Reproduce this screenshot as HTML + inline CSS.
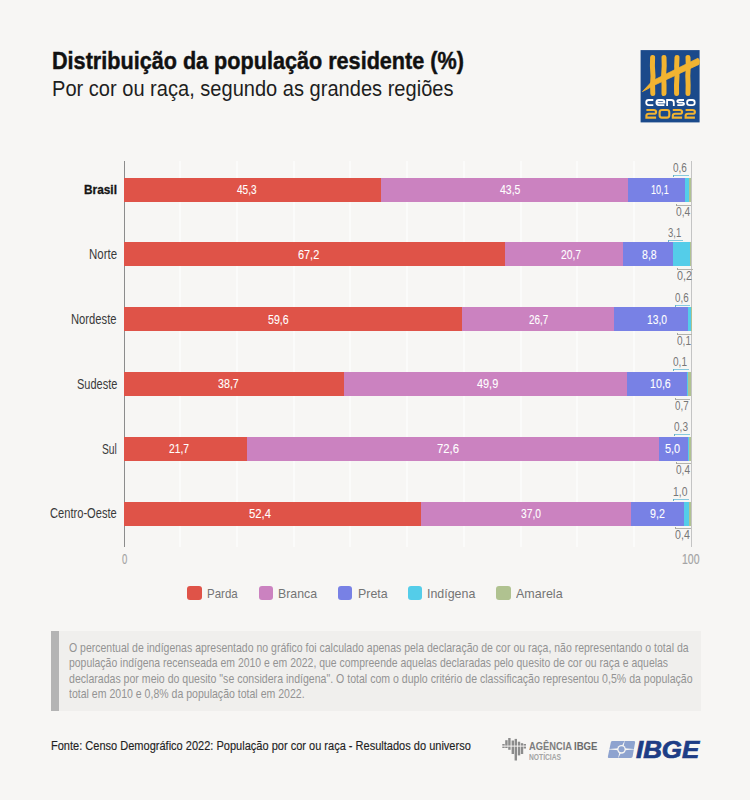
<!DOCTYPE html><html><head><meta charset="utf-8"><style>
html,body{margin:0;padding:0}
body{width:750px;height:800px;overflow:hidden;background:#f7f6f4;position:relative;font-family:"Liberation Sans",sans-serif}
.a{position:absolute}
.t{position:absolute;white-space:pre;line-height:normal;transform-origin:0 0}
</style></head><body>
<div class="a" style="left:179.22px;top:161px;width:2px;height:386px;background:#fbfbfa"></div>
<div class="a" style="left:235.94px;top:161px;width:2px;height:386px;background:#fbfbfa"></div>
<div class="a" style="left:292.66px;top:161px;width:2px;height:386px;background:#fbfbfa"></div>
<div class="a" style="left:349.38px;top:161px;width:2px;height:386px;background:#fbfbfa"></div>
<div class="a" style="left:406.10px;top:161px;width:2px;height:386px;background:#fbfbfa"></div>
<div class="a" style="left:462.82px;top:161px;width:2px;height:386px;background:#fbfbfa"></div>
<div class="a" style="left:519.54px;top:161px;width:2px;height:386px;background:#fbfbfa"></div>
<div class="a" style="left:576.26px;top:161px;width:2px;height:386px;background:#fbfbfa"></div>
<div class="a" style="left:632.98px;top:161px;width:2px;height:386px;background:#fbfbfa"></div>
<div class="a" style="left:124px;top:161px;width:1px;height:386px;background:#8c8c8c"></div>
<div class="a" style="left:690.5px;top:161px;width:1.2px;height:386px;background:#c4c4c4"></div>
<div class="a" style="left:124.00px;top:178.00px;width:257.08px;height:24.2px;background:#df5348"></div>
<div class="a" style="left:381.08px;top:178.00px;width:246.86px;height:24.2px;background:#cb82c0"></div>
<div class="a" style="left:627.94px;top:178.00px;width:57.32px;height:24.2px;background:#7881e5"></div>
<div class="a" style="left:685.26px;top:178.00px;width:3.40px;height:24.2px;background:#54cde9"></div>
<div class="a" style="left:688.66px;top:178.00px;width:2.84px;height:24.2px;background:#b0c290"></div>
<div class="a" style="left:673.3px;top:175.4px;width:15.4px;height:1px;background:#86c9de"></div>
<div class="a" style="left:673.3px;top:175.4px;width:1px;height:2px;background:#6aaec4"></div>
<div class="a" style="left:676.1px;top:204.8px;width:15.3px;height:1px;background:#b3b3ad"></div>
<div class="a" style="left:676.1px;top:203.8px;width:1px;height:2px;background:#a5a59f"></div>
<div class="a" style="left:124.00px;top:242.25px;width:381.36px;height:24.2px;background:#df5348"></div>
<div class="a" style="left:505.36px;top:242.25px;width:117.47px;height:24.2px;background:#cb82c0"></div>
<div class="a" style="left:622.83px;top:242.25px;width:49.94px;height:24.2px;background:#7881e5"></div>
<div class="a" style="left:672.77px;top:242.25px;width:17.59px;height:24.2px;background:#54cde9"></div>
<div class="a" style="left:690.37px;top:242.25px;width:1.13px;height:24.2px;background:#b0c290"></div>
<div class="a" style="left:668.0px;top:239.7px;width:14.7px;height:1px;background:#86c9de"></div>
<div class="a" style="left:668.0px;top:239.7px;width:1px;height:2px;background:#6aaec4"></div>
<div class="a" style="left:676.5px;top:269.1px;width:16.0px;height:1px;background:#b3b3ad"></div>
<div class="a" style="left:676.5px;top:268.1px;width:1px;height:2px;background:#a5a59f"></div>
<div class="a" style="left:124.00px;top:307.25px;width:338.23px;height:24.2px;background:#df5348"></div>
<div class="a" style="left:462.23px;top:307.25px;width:151.52px;height:24.2px;background:#cb82c0"></div>
<div class="a" style="left:613.75px;top:307.25px;width:73.77px;height:24.2px;background:#7881e5"></div>
<div class="a" style="left:687.53px;top:307.25px;width:3.40px;height:24.2px;background:#54cde9"></div>
<div class="a" style="left:690.93px;top:307.25px;width:0.57px;height:24.2px;background:#b0c290"></div>
<div class="a" style="left:675.2px;top:304.6px;width:15.1px;height:1px;background:#86c9de"></div>
<div class="a" style="left:675.2px;top:304.6px;width:1px;height:2px;background:#6aaec4"></div>
<div class="a" style="left:677.2px;top:334.1px;width:15.0px;height:1px;background:#b3b3ad"></div>
<div class="a" style="left:677.2px;top:333.1px;width:1px;height:2px;background:#a5a59f"></div>
<div class="a" style="left:124.00px;top:372.00px;width:219.62px;height:24.2px;background:#df5348"></div>
<div class="a" style="left:343.62px;top:372.00px;width:283.18px;height:24.2px;background:#cb82c0"></div>
<div class="a" style="left:626.80px;top:372.00px;width:60.15px;height:24.2px;background:#7881e5"></div>
<div class="a" style="left:686.96px;top:372.00px;width:0.57px;height:24.2px;background:#54cde9"></div>
<div class="a" style="left:687.53px;top:372.00px;width:3.97px;height:24.2px;background:#b0c290"></div>
<div class="a" style="left:673.2px;top:369.4px;width:15.5px;height:1px;background:#86c9de"></div>
<div class="a" style="left:673.2px;top:369.4px;width:1px;height:2px;background:#6aaec4"></div>
<div class="a" style="left:675.2px;top:398.8px;width:14.6px;height:1px;background:#b3b3ad"></div>
<div class="a" style="left:675.2px;top:397.8px;width:1px;height:2px;background:#a5a59f"></div>
<div class="a" style="left:124.00px;top:436.50px;width:123.15px;height:24.2px;background:#df5348"></div>
<div class="a" style="left:247.15px;top:436.50px;width:412.00px;height:24.2px;background:#cb82c0"></div>
<div class="a" style="left:659.15px;top:436.50px;width:28.38px;height:24.2px;background:#7881e5"></div>
<div class="a" style="left:687.53px;top:436.50px;width:1.70px;height:24.2px;background:#54cde9"></div>
<div class="a" style="left:689.23px;top:436.50px;width:2.27px;height:24.2px;background:#b0c290"></div>
<div class="a" style="left:674.0px;top:433.9px;width:15.5px;height:1px;background:#86c9de"></div>
<div class="a" style="left:674.0px;top:433.9px;width:1px;height:2px;background:#6aaec4"></div>
<div class="a" style="left:676.0px;top:463.3px;width:15.0px;height:1px;background:#b3b3ad"></div>
<div class="a" style="left:676.0px;top:462.3px;width:1px;height:2px;background:#a5a59f"></div>
<div class="a" style="left:124.00px;top:501.50px;width:297.37px;height:24.2px;background:#df5348"></div>
<div class="a" style="left:421.37px;top:501.50px;width:209.98px;height:24.2px;background:#cb82c0"></div>
<div class="a" style="left:631.35px;top:501.50px;width:52.21px;height:24.2px;background:#7881e5"></div>
<div class="a" style="left:683.56px;top:501.50px;width:5.67px;height:24.2px;background:#54cde9"></div>
<div class="a" style="left:689.23px;top:501.50px;width:2.27px;height:24.2px;background:#b0c290"></div>
<div class="a" style="left:672.8px;top:498.9px;width:15.9px;height:1px;background:#86c9de"></div>
<div class="a" style="left:672.8px;top:498.9px;width:1px;height:2px;background:#6aaec4"></div>
<div class="a" style="left:675.2px;top:528.3px;width:15.8px;height:1px;background:#b3b3ad"></div>
<div class="a" style="left:675.2px;top:527.3px;width:1px;height:2px;background:#a5a59f"></div>
<div class="a" style="left:187.3px;top:585.5px;width:14.5px;height:14.5px;border-radius:3px;background:#df5348"></div>
<div class="a" style="left:258.6px;top:585.5px;width:14.5px;height:14.5px;border-radius:3px;background:#cb82c0"></div>
<div class="a" style="left:337.8px;top:585.5px;width:14.5px;height:14.5px;border-radius:3px;background:#7881e5"></div>
<div class="a" style="left:407.5px;top:585.5px;width:14.5px;height:14.5px;border-radius:3px;background:#54cde9"></div>
<div class="a" style="left:496px;top:585.5px;width:14.5px;height:14.5px;border-radius:3px;background:#b0c290"></div>
<div class="a" style="left:51px;top:631px;width:650px;height:80px;background:#f0efed"></div>
<div class="a" style="left:51px;top:631px;width:8px;height:80px;background:#b4b4b4"></div>
<span class="t" id="t0" style="left:52.30px;top:46.74px;font-size:24.6px;font-weight:700;font-style:normal;color:#111;transform-origin:0 22.26px;transform:scale(0.8787,1.000);-webkit-text-stroke:0.45px #111">Distribuição da população residente (%)</span>
<span class="t" id="t1" style="left:51.50px;top:77.00px;font-size:21px;font-weight:400;font-style:normal;color:#1e1e1e;transform-origin:0 19.00px;transform:scale(0.9553,1.050);">Por cor ou raça, segundo as grandes regiões</span>
<span class="t" id="t2" style="left:83.75px;top:181.83px;font-size:13.0px;font-weight:700;font-style:normal;color:#151515;transform-origin:0 11.77px;transform:scale(0.9117,1.000);-webkit-text-stroke:0.3px #151515">Brasil</span>
<span class="t" id="t3" style="left:88.75px;top:246.51px;font-size:13.8px;font-weight:400;font-style:normal;color:#3a3a3a;transform-origin:0 12.49px;transform:scale(0.8311,1.030);">Norte</span>
<span class="t" id="t4" style="left:71.25px;top:311.81px;font-size:13.8px;font-weight:400;font-style:normal;color:#3a3a3a;transform-origin:0 12.49px;transform:scale(0.8136,1.030);">Nordeste</span>
<span class="t" id="t5" style="left:76.50px;top:376.51px;font-size:13.8px;font-weight:400;font-style:normal;color:#3a3a3a;transform-origin:0 12.49px;transform:scale(0.7958,1.030);">Sudeste</span>
<span class="t" id="t6" style="left:101.90px;top:441.51px;font-size:13.8px;font-weight:400;font-style:normal;color:#3a3a3a;transform-origin:0 12.49px;transform:scale(0.7468,1.030);">Sul</span>
<span class="t" id="t7" style="left:50.00px;top:505.81px;font-size:13.8px;font-weight:400;font-style:normal;color:#3a3a3a;transform-origin:0 12.49px;transform:scale(0.8065,1.030);">Centro-Oeste</span>
<span class="t" id="t8" style="left:237.20px;top:182.32px;font-size:12.8px;font-weight:400;font-style:normal;color:#ffffff;transform-origin:0 11.58px;transform:scale(0.7865,1.000);-webkit-text-stroke:0.1px #fff">45,3</span>
<span class="t" id="t9" style="left:499.60px;top:182.32px;font-size:12.8px;font-weight:400;font-style:normal;color:#ffffff;transform-origin:0 11.58px;transform:scale(0.8186,1.000);-webkit-text-stroke:0.1px #fff">43,5</span>
<span class="t" id="t10" style="left:650.90px;top:182.32px;font-size:12.8px;font-weight:400;font-style:normal;color:#ffffff;transform-origin:0 11.58px;transform:scale(0.7102,1.000);-webkit-text-stroke:0.1px #fff">10,1</span>
<span class="t" id="t11" style="left:673.30px;top:160.42px;font-size:12.8px;font-weight:400;font-style:normal;color:#777;transform-origin:0 11.58px;transform:scale(0.7810,1.000);">0,6</span>
<span class="t" id="t12" style="left:676.10px;top:203.62px;font-size:12.8px;font-weight:400;font-style:normal;color:#777;transform-origin:0 11.58px;transform:scale(0.8035,1.000);">0,4</span>
<span class="t" id="t13" style="left:298.00px;top:246.57px;font-size:12.8px;font-weight:400;font-style:normal;color:#ffffff;transform-origin:0 11.58px;transform:scale(0.8507,1.000);-webkit-text-stroke:0.1px #fff">67,2</span>
<span class="t" id="t14" style="left:560.90px;top:246.57px;font-size:12.8px;font-weight:400;font-style:normal;color:#ffffff;transform-origin:0 11.58px;transform:scale(0.8065,1.000);-webkit-text-stroke:0.1px #fff">20,7</span>
<span class="t" id="t15" style="left:642.00px;top:246.57px;font-size:12.8px;font-weight:400;font-style:normal;color:#ffffff;transform-origin:0 11.58px;transform:scale(0.8260,1.000);-webkit-text-stroke:0.1px #fff">8,8</span>
<span class="t" id="t16" style="left:668.00px;top:224.67px;font-size:12.8px;font-weight:400;font-style:normal;color:#777;transform-origin:0 11.58px;transform:scale(0.7417,1.000);">3,1</span>
<span class="t" id="t17" style="left:676.50px;top:267.87px;font-size:12.8px;font-weight:400;font-style:normal;color:#777;transform-origin:0 11.58px;transform:scale(0.8428,1.000);">0,2</span>
<span class="t" id="t18" style="left:267.80px;top:311.57px;font-size:12.8px;font-weight:400;font-style:normal;color:#ffffff;transform-origin:0 11.58px;transform:scale(0.8266,1.000);-webkit-text-stroke:0.1px #fff">59,6</span>
<span class="t" id="t19" style="left:528.80px;top:311.57px;font-size:12.8px;font-weight:400;font-style:normal;color:#ffffff;transform-origin:0 11.58px;transform:scale(0.7704,1.000);-webkit-text-stroke:0.1px #fff">26,7</span>
<span class="t" id="t20" style="left:647.20px;top:311.57px;font-size:12.8px;font-weight:400;font-style:normal;color:#ffffff;transform-origin:0 11.58px;transform:scale(0.8025,1.000);-webkit-text-stroke:0.1px #fff">13,0</span>
<span class="t" id="t21" style="left:675.20px;top:289.67px;font-size:12.8px;font-weight:400;font-style:normal;color:#777;transform-origin:0 11.58px;transform:scale(0.7642,1.000);">0,6</span>
<span class="t" id="t22" style="left:677.20px;top:332.87px;font-size:12.8px;font-weight:400;font-style:normal;color:#777;transform-origin:0 11.58px;transform:scale(0.7867,1.000);">0,1</span>
<span class="t" id="t23" style="left:218.00px;top:376.32px;font-size:12.8px;font-weight:400;font-style:normal;color:#ffffff;transform-origin:0 11.58px;transform:scale(0.8346,1.000);-webkit-text-stroke:0.1px #fff">38,7</span>
<span class="t" id="t24" style="left:476.80px;top:376.32px;font-size:12.8px;font-weight:400;font-style:normal;color:#ffffff;transform-origin:0 11.58px;transform:scale(0.8507,1.000);-webkit-text-stroke:0.1px #fff">49,9</span>
<span class="t" id="t25" style="left:650.00px;top:376.32px;font-size:12.8px;font-weight:400;font-style:normal;color:#ffffff;transform-origin:0 11.58px;transform:scale(0.8346,1.000);-webkit-text-stroke:0.1px #fff">10,6</span>
<span class="t" id="t26" style="left:673.20px;top:354.42px;font-size:12.8px;font-weight:400;font-style:normal;color:#777;transform-origin:0 11.58px;transform:scale(0.7867,1.000);">0,1</span>
<span class="t" id="t27" style="left:675.20px;top:397.62px;font-size:12.8px;font-weight:400;font-style:normal;color:#777;transform-origin:0 11.58px;transform:scale(0.7642,1.000);">0,7</span>
<span class="t" id="t28" style="left:168.80px;top:440.82px;font-size:12.8px;font-weight:400;font-style:normal;color:#ffffff;transform-origin:0 11.58px;transform:scale(0.8025,1.000);-webkit-text-stroke:0.1px #fff">21,7</span>
<span class="t" id="t29" style="left:436.80px;top:440.82px;font-size:12.8px;font-weight:400;font-style:normal;color:#ffffff;transform-origin:0 11.58px;transform:scale(0.8828,1.000);-webkit-text-stroke:0.1px #fff">72,6</span>
<span class="t" id="t30" style="left:664.80px;top:440.82px;font-size:12.8px;font-weight:400;font-style:normal;color:#ffffff;transform-origin:0 11.58px;transform:scale(0.8541,1.000);-webkit-text-stroke:0.1px #fff">5,0</span>
<span class="t" id="t31" style="left:674.00px;top:418.92px;font-size:12.8px;font-weight:400;font-style:normal;color:#777;transform-origin:0 11.58px;transform:scale(0.7867,1.000);">0,3</span>
<span class="t" id="t32" style="left:676.00px;top:462.12px;font-size:12.8px;font-weight:400;font-style:normal;color:#777;transform-origin:0 11.58px;transform:scale(0.7867,1.000);">0,4</span>
<span class="t" id="t33" style="left:248.80px;top:505.82px;font-size:12.8px;font-weight:400;font-style:normal;color:#ffffff;transform-origin:0 11.58px;transform:scale(0.8828,1.000);-webkit-text-stroke:0.1px #fff">52,4</span>
<span class="t" id="t34" style="left:520.80px;top:505.82px;font-size:12.8px;font-weight:400;font-style:normal;color:#ffffff;transform-origin:0 11.58px;transform:scale(0.8025,1.000);-webkit-text-stroke:0.1px #fff">37,0</span>
<span class="t" id="t35" style="left:650.00px;top:505.82px;font-size:12.8px;font-weight:400;font-style:normal;color:#ffffff;transform-origin:0 11.58px;transform:scale(0.8316,1.000);-webkit-text-stroke:0.1px #fff">9,2</span>
<span class="t" id="t36" style="left:672.80px;top:483.92px;font-size:12.8px;font-weight:400;font-style:normal;color:#777;transform-origin:0 11.58px;transform:scale(0.8091,1.000);">1,0</span>
<span class="t" id="t37" style="left:675.20px;top:527.12px;font-size:12.8px;font-weight:400;font-style:normal;color:#777;transform-origin:0 11.58px;transform:scale(0.8316,1.000);">0,4</span>
<span class="t" id="t38" style="left:122.00px;top:551.08px;font-size:14.5px;font-weight:400;font-style:normal;color:#a4a4a4;transform-origin:0 13.12px;transform:scale(0.6561,1.000);-webkit-text-stroke:0.2px #a4a4a4">0</span>
<span class="t" id="t39" style="left:682.00px;top:551.08px;font-size:14.5px;font-weight:400;font-style:normal;color:#a4a4a4;transform-origin:0 13.12px;transform:scale(0.7230,1.000);-webkit-text-stroke:0.2px #a4a4a4">100</span>
<span class="t" id="t40" style="left:207.30px;top:586.13px;font-size:13px;font-weight:400;font-style:normal;color:#747474;transform-origin:0 11.77px;transform:scale(0.8846,1.000);">Parda</span>
<span class="t" id="t41" style="left:278.30px;top:586.13px;font-size:13px;font-weight:400;font-style:normal;color:#747474;transform-origin:0 11.77px;transform:scale(0.9465,1.000);">Branca</span>
<span class="t" id="t42" style="left:357.50px;top:586.13px;font-size:13px;font-weight:400;font-style:normal;color:#747474;transform-origin:0 11.77px;transform:scale(0.9524,1.000);">Preta</span>
<span class="t" id="t43" style="left:427.20px;top:586.13px;font-size:13px;font-weight:400;font-style:normal;color:#747474;transform-origin:0 11.77px;transform:scale(0.9544,1.000);">Indígena</span>
<span class="t" id="t44" style="left:515.50px;top:586.13px;font-size:13px;font-weight:400;font-style:normal;color:#747474;transform-origin:0 11.77px;transform:scale(0.9624,1.000);">Amarela</span>
<span class="t" id="t45" style="left:69.40px;top:640.69px;font-size:12.5px;font-weight:400;font-style:normal;color:#939393;transform-origin:0 11.31px;transform:scale(0.8403,1.060);">O percentual de indígenas apresentado no gráfico foi calculado apenas pela declaração de cor ou raça, não representando o total da</span>
<span class="t" id="t46" style="left:69.40px;top:656.19px;font-size:12.5px;font-weight:400;font-style:normal;color:#939393;transform-origin:0 11.31px;transform:scale(0.8353,1.060);">população indígena recenseada em 2010 e em 2022, que compreende aquelas declaradas pelo quesito de cor ou raça e aquelas</span>
<span class="t" id="t47" style="left:69.40px;top:671.69px;font-size:12.5px;font-weight:400;font-style:normal;color:#939393;transform-origin:0 11.31px;transform:scale(0.8452,1.060);">declaradas por meio do quesito "se considera indígena". O total com o duplo critério de classificação representou 0,5% da população</span>
<span class="t" id="t48" style="left:69.40px;top:687.19px;font-size:12.5px;font-weight:400;font-style:normal;color:#939393;transform-origin:0 11.31px;transform:scale(0.8433,1.060);">total em 2010 e 0,8% da população total em 2022.</span>
<span class="t" id="t49" style="left:51.00px;top:738.69px;font-size:12.5px;font-weight:400;font-style:normal;color:#1f1f1f;transform-origin:0 11.31px;transform:scale(0.8820,1.050);-webkit-text-stroke:0.15px #1f1f1f">Fonte: Censo Demográfico 2022: População por cor ou raça - Resultados do universo</span>
<span class="t" id="t50" style="left:529.00px;top:740.43px;font-size:10.8px;font-weight:700;font-style:normal;color:#7d7d7d;transform-origin:0 9.77px;transform:scale(0.8635,1.000);">AGÊNCIA</span>
<span class="t" id="t51" style="left:573.50px;top:740.43px;font-size:10.8px;font-weight:700;font-style:normal;color:#6b6b6b;transform-origin:0 9.77px;transform:scale(0.8899,1.000);">IBGE</span>
<span class="t" id="t52" style="left:529.00px;top:751.86px;font-size:9px;font-weight:700;font-style:normal;color:#a3a3a3;transform-origin:0 8.14px;transform:scale(0.7439,1.000);">NOTÍCIAS</span>
<span class="t" id="t53" style="left:636.20px;top:737.08px;font-size:23px;font-weight:700;font-style:italic;color:#1d3d86;transform-origin:0 20.82px;transform:scale(1.1239,1.000);-webkit-text-stroke:0.7px #1d3d86">IBGE</span>
<svg class="a" style="left:0;top:0" width="750" height="800" viewBox="0 0 750 800">
<rect x="640.6" y="50.1" width="59" height="72.3" fill="#1b4a8b"/>
<g stroke="#f2b431" stroke-linecap="round" fill="none" stroke-width="5">
<path d="M652.6 57.5 Q652 66 653 76 Q652.2 86 652.8 93.5"/>
<path d="M664 57.5 Q664.6 66 663.6 76 Q664.3 86 664 93.5"/>
<path d="M677 57.5 Q676.3 66 677 76 Q676.2 86 676.6 93.5"/>
<path d="M688 57.5 Q688.7 66 687.8 76 Q688.4 86 688 93.5"/>
</g>
<path d="M642.4 91.6 Q646 88 652.5 80.8 L698 58.2 Q700.5 60.3 699 64.4 L652.5 86 Q647 89.5 642.4 91.6 Z" fill="#f2b431" stroke="#f2b431" stroke-width="0.8" stroke-linejoin="round"/>
<g stroke="#ffffff" stroke-width="1.8" fill="none">
<path d="M653.3 100 H648.6 Q646.2 100 646.2 102.55 Q646.2 105.1 648.6 105.1 H653.3"/>
<path d="M664.4 105.1 H658.8 Q656.4 105.1 656.4 102.55 Q656.4 100 658.8 100 H662 Q664.4 100 664.4 102.3 V102.7 H656.4"/>
<path d="M667.1 106 V100 H671.4 Q673.8 100 673.8 102.4 V106"/>
<path d="M684 100 H679.3 Q677.3 100 677.3 101.3 Q677.3 102.55 679.3 102.55 H682 Q684 102.55 684 103.8 Q684 105.1 682 105.1 H677.3"/>
<rect x="687.1" y="100" width="7.6" height="5.1" rx="2.4"/>
</g>
<g stroke="#f2b431" stroke-width="2.1" fill="none">
<path d="M646.4 110 H653.6 Q656.1 110 656.1 111.9 Q656.1 113.8 653.6 113.8 H649 Q646.4 113.8 646.4 115.7 V117.6 H656.1"/>
<rect x="659.6" y="110" width="9.7" height="7.6" rx="2.3"/>
<path d="M672.8 110 H679.6 Q682.1 110 682.1 111.9 Q682.1 113.8 679.6 113.8 H675.3 Q672.8 113.8 672.8 115.7 V117.6 H682.1"/>
<path d="M685.6 110 H692.4 Q694.9 110 694.9 111.9 Q694.9 113.8 692.4 113.8 H688.1 Q685.6 113.8 685.6 115.7 V117.6 H694.9"/>
</g>
<!-- agencia icon -->
<g fill="#8c8c8c">
<rect x="502.3" y="744" width="2.4" height="4"/>
<rect x="505.2" y="740.2" width="2.4" height="7.8"/>
<rect x="508.2" y="738" width="2.4" height="11.8"/>
<rect x="511.6" y="740.5" width="2.4" height="13.5"/>
<rect x="514.6" y="738.9" width="2.4" height="21.6"/>
<rect x="517.8" y="741.7" width="2.4" height="13.7"/>
<rect x="520.8" y="743.2" width="2.4" height="10.8"/>
<rect x="523.6" y="744" width="2.4" height="4.5"/>
</g>
<rect x="501" y="745.6" width="27" height="1" fill="#f7f6f4"/>
<!-- ibge icon -->
<path d="M612.5 741 H634 Q635.5 741 635.1 742.5 L632.6 756.5 Q632.3 757.9 631 757.9 H609 Q607.5 757.9 607.9 756.4 L610.8 742.4 Q611.1 741 612.5 741 Z" fill="#8ea3cf"/>
<path d="M606.5 749.35 L621.5 748.1 L636.5 749.35 L621.5 750.6 Z" fill="#f7f6f4"/>
<path d="M625 740 L622.9 749.35 L618 758.5 L620.1 749.35 Z" fill="#f7f6f4"/>
<circle cx="621.5" cy="749.35" r="4.3" fill="#f7f6f4"/>
<circle cx="621.5" cy="749.35" r="3.0" fill="#8ea3cf"/>
</svg>

</body></html>
